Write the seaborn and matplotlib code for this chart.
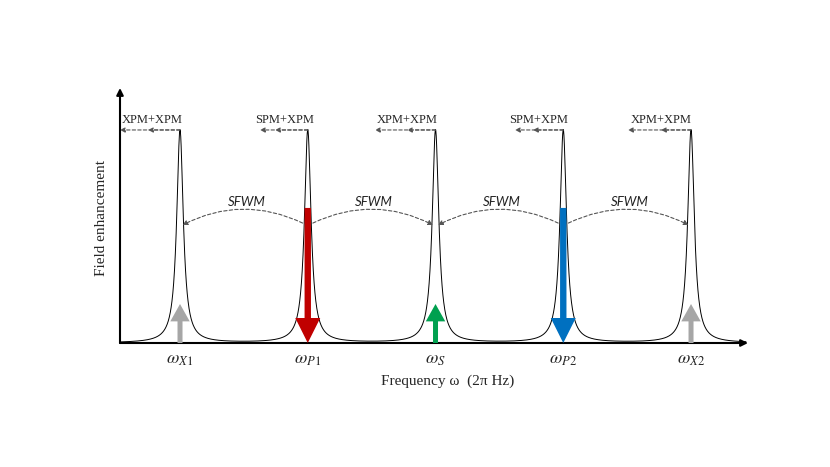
import numpy as np
import pandas as pd
import seaborn as sns
from matplotlib import pyplot as plt

# resonance positions (in units of FSR) and labels
peak_pos = [0, 1, 2, 3, 4]
peak_labels = [r"$\omega_{X\mathrm{1}}$", r"$\omega_{P\mathrm{1}}$", r"$\omega_{S}$",
               r"$\omega_{P\mathrm{2}}$", r"$\omega_{X\mathrm{2}}$"]
peak_height = 1.0
half_width = 0.031

# field arrows at each resonance
arrow_from = [0.0, 0.634, 0.0, 0.634, 0.0]
arrow_to = [0.183, 0.0, 0.183, 0.0, 0.183]
arrow_colors = ["#A6A6A6", "#C00000", "#00A04F", "#0070C0", "#A6A6A6"]
arrow_big = [False, True, False, True, False]

# Kerr shift annotations at the peak tops
kerr_labels = ["XPM+XPM", "SPM+XPM", "XPM+XPM", "SPM+XPM", "XPM+XPM"]
kerr_end = [-0.47, 0.626, 1.526, 2.622, 3.507]
kerr_mid = [-0.25, 0.744, 1.777, 2.763, 3.765]
kerr_text_x = [-0.22, 0.822, 1.777, 2.81, 3.765]

# SFWM links: (pump, target)
sfwm_pairs = [(1, 0), (1, 2), (3, 2), (3, 4)]

x_min, x_max = -0.4697, 4.446
y_max = 1.197

freq = np.linspace(x_min, 4.43, 3000)
field = np.zeros_like(freq)
for p in peak_pos:
    field += peak_height / (1 + ((freq - p) / half_width) ** 2)
curve_df = pd.DataFrame({"freq": freq, "field": field})

sns.set_style("white")
plt.rcParams["font.family"] = ["Liberation Serif", "DejaVu Serif"]
plt.rcParams["mathtext.fontset"] = "stix"

fig = plt.figure(figsize=(8.3, 4.67), dpi=100)
ax = fig.add_axes([120 / 830, (467 - 343) / 467, 628 / 830, 255 / 467])

sns.lineplot(data=curve_df, x="freq", y="field", color="black", linewidth=0.7, ax=ax)

# SFWM dashed arcs, bowing upwards
for src, dst in sfwm_pairs:
    d = np.sign(dst - src)
    ax.annotate(
        "", xy=(peak_pos[dst] - d * 0.02, 0.554), xytext=(peak_pos[src] + d * 0.04, 0.563),
        arrowprops=dict(arrowstyle="-|>", color="#555555", lw=0.8, linestyle=(0, (3, 2)),
                        mutation_scale=7, shrinkA=0, shrinkB=0,
                        connectionstyle=f"arc3,rad={-0.245 * d}"),
    )
    ax.text((peak_pos[src] + peak_pos[dst]) / 2 + 0.02, 0.662, "SFWM", ha="center", va="center",
            fontsize=9.5, style="italic", family=["Lato", "DejaVu Sans"], color="#222222")

# field arrows
for p, y0, y1, c, big in zip(peak_pos, arrow_from, arrow_to, arrow_colors, arrow_big):
    if big:
        style = "simple,head_length=18,head_width=18,tail_width=4.6"
    else:
        style = "simple,head_length=12.5,head_width=14,tail_width=3.6"
    ax.annotate("", xy=(p, y1), xytext=(p, y0),
                arrowprops=dict(arrowstyle=style, color=c, lw=0, mutation_scale=1,
                                shrinkA=0, shrinkB=0), zorder=5)

# Kerr shift arrows and labels
for p, lab, xe, xm, xt in zip(peak_pos, kerr_labels, kerr_end, kerr_mid, kerr_text_x):
    for xx in (xe, xm):
        ax.annotate("", xy=(xx, peak_height), xytext=(p, peak_height),
                    arrowprops=dict(arrowstyle="-|>", color="#555555", lw=0.8,
                                    linestyle=(0, (3, 2)), mutation_scale=7,
                                    shrinkA=0, shrinkB=0))
    ax.text(xt, 1.047, lab, ha="center", va="center", fontsize=9)

# axis arrows
ax.annotate("", xy=(1.0, 0), xytext=(0, 0), xycoords="axes fraction",
            arrowprops=dict(arrowstyle="-|>", color="black", lw=1.5, mutation_scale=10,
                            shrinkA=0, shrinkB=0))
ax.annotate("", xy=(0, 1.0), xytext=(0, 0), xycoords="axes fraction",
            arrowprops=dict(arrowstyle="-|>", color="black", lw=1.5, mutation_scale=10,
                            shrinkA=0, shrinkB=0))

ax.set_xlim(x_min, x_max)
ax.set_ylim(0, y_max)
for s in ax.spines.values():
    s.set_visible(False)
ax.set_xticks(peak_pos, peak_labels, fontsize=13)
ax.set_yticks([])
ax.tick_params(axis="x", length=0, pad=6)
ax.set_xlabel("Frequency ω  (2π Hz)", fontsize=11)
ax.set_ylabel("Field enhancement", fontsize=11)
ax.xaxis.set_label_coords(0.522, -0.125)
ax.yaxis.set_label_coords(-0.019, 0.49)
ax.patch.set_alpha(0)

fig.savefig("out.png", dpi=100)
